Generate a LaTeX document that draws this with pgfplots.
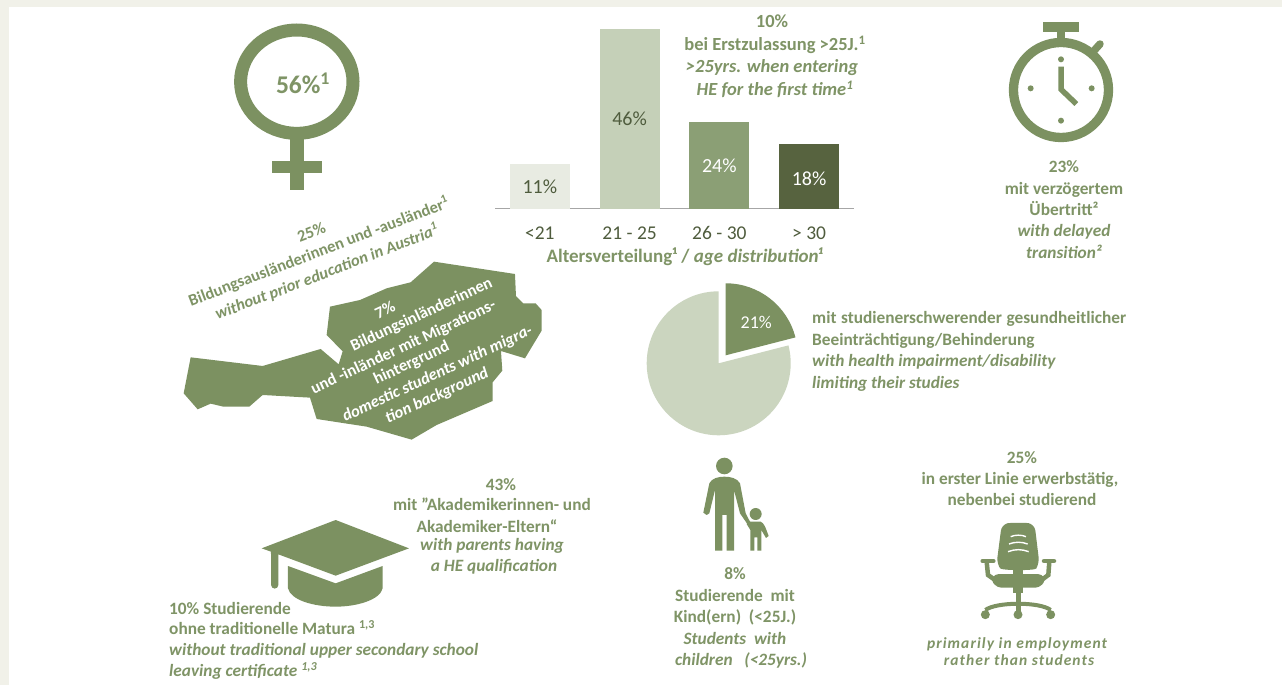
\documentclass[border=0pt]{standalone}
\usepackage{pgfplots}
\pgfplotsset{compat=1.18}
\usepackage{fontspec}
\setmainfont{Carlito}
\definecolor{bg}{HTML}{F1F1E9}
\definecolor{gr}{HTML}{7C9161}
\definecolor{tx}{HTML}{7F9466}
\definecolor{dk}{HTML}{4F5C3D}
\definecolor{b1}{HTML}{E8EBE2}
\definecolor{b2}{HTML}{C5D0B8}
\definecolor{b3}{HTML}{8B9F75}
\definecolor{b4}{HTML}{57633F}
\definecolor{pl}{HTML}{CBD5BF}
\newcommand{\sz}[1]{\fontsize{#1}{#1}\selectfont}
\def\fs{17.3}
\newcommand{\su}[1]{\textsuperscript{#1}}
\newcommand{\B}[3]{\node[tx,font=\sz{\fs}\bfseries,inner sep=0pt,anchor=base] at (#1,{#2+5.5}) {#3};}
\newcommand{\I}[3]{\node[tx,font=\sz{\fs}\bfseries\itshape,inner sep=0pt,anchor=base] at (#1,{#2+5.5}) {#3};}
\newcommand{\LB}[3]{\node[tx,font=\sz{\fs}\bfseries,inner sep=0pt,anchor=base west] at (#1,{#2+5.5}) {#3};}
\newcommand{\LI}[3]{\node[tx,font=\sz{\fs}\bfseries\itshape,inner sep=0pt,anchor=base west] at (#1,{#2+5.5}) {#3};}
\newcommand{\W}[3]{\node[white,font=\sz{16.5}\bfseries,inner sep=0pt,rotate=25] at (#1,#2) {#3};}
\begin{document}
\begin{tikzpicture}[x=1pt,y=-1pt]
\fill[bg] (0,0) rectangle (1282,685);
\fill[white] (9,7) rectangle (1282,685);
% bar chart
\begin{axis}[at={(495pt,-208.5pt)},anchor=south west,scale only axis,width=359pt,height=180pt,
  xmin=-0.5,xmax=3.5,ymin=0,ymax=46,axis x line=bottom,axis y line=none,
  axis line style={draw=gray!70,line width=1pt,-},
  xtick={0,1,2,3},xticklabels={{<21},{21 - 25},{26 - 30},{> 30}},
  major tick length=0pt,
  xticklabel style={font=\sz{19.5},text=dk,inner sep=0pt,yshift=-18pt,text height=13pt,text depth=0pt},
  ybar,bar width=60pt,clip=false]
\addplot[fill=b1,draw=none,bar shift=0pt] coordinates {(0,11.5)};
\addplot[fill=b2,draw=none,bar shift=0pt] coordinates {(1,46)};
\addplot[fill=b3,draw=none,bar shift=0pt] coordinates {(2,22)};
\addplot[fill=b4,draw=none,bar shift=0pt] coordinates {(3,16.4)};
\node[dk,font=\sz{20}] at (axis cs:0,5.5) {11\%};
\node[dk,font=\sz{20}] at (axis cs:1,23) {46\%};
\node[white,font=\sz{20}] at (axis cs:2,10.8) {24\%};
\node[white,font=\sz{20}] at (axis cs:3,7.6) {18\%};
\end{axis}
\node[tx,font=\sz{19}\bfseries,inner sep=0pt,anchor=base] at (685,262) {Altersverteilung¹ / \textit{age distribution¹}};
\def\fs{18.5}
\B{772}{22}{10\%}
\B{775}{45}{bei Erstzulassung >25J.\su{1}}
\I{772}{67}{>25yrs. when entering}
\I{775}{90}{HE for the first time\su{1}}
\def\fs{17.3}
% pie
\begin{axis}[at={(646.7pt,-435.3pt)},anchor=south west,scale only axis,width=144pt,height=144pt,
  xmin=-72,xmax=72,ymin=-72,ymax=72,hide axis,clip=false]
\fill[pl] (axis cs:0,0) -- (axis cs:0,72) arc[start angle=90,delta angle=284.4,radius=72pt] -- cycle;
\fill[gr] (axis cs:7,8) -- (axis cs:7,80) arc[start angle=90,delta angle=-75.6,radius=72pt] -- cycle;
\node[white,font=\sz{18}] at (axis cs:37.5,41) {21\%};
\end{axis}
\LB{812}{318}{\makebox[314pt][s]{mit studienerschwerender gesundheitlicher}}
\LB{812}{340}{Beeinträchtigung/Behinderung}
\LI{812}{361}{with health impairment/disability}
\LI{812}{383}{limiting their studies}
% venus
\draw[gr,line width=13pt] (296.8,81.7) ellipse [x radius=56.2pt,y radius=51.7pt];
\fill[gr] (290.3,135) rectangle (303.7,190);
\fill[gr] (272.3,160.7) rectangle (321.7,173.3);
\node[tx,font=\sz{25.5}\bfseries,inner sep=0pt] at (303,83) {56\%\su{1}};
% stopwatch
\begin{scope}[shift={(980,10)},x=0.3333pt,y=-0.3333pt]
\draw[gr,line width=9.3pt] (243,240) circle (47.5pt);
\fill[gr] (190,37) rectangle (298,65);
\fill[gr] (232,60) rectangle (256,95);
\draw[gr,line width=7.5pt,line cap=round] (335,130) -- (360,102);
\foreach \p in {(243,148),(152,235),(335,235),(243,332)} \fill[gr] \p circle (3pt);
\draw[gr,line width=5.5pt] (243,170) -- (243,238) -- (289,282);
\end{scope}
\B{1064}{167}{23\%}
\B{1064}{189}{mit verzögertem}
\B{1064}{210}{Übertritt²}
\I{1064}{231}{with delayed}
\I{1064}{253}{transition²}
% Austria
\begin{scope}[shift={(170,210)},x=0.3333pt,y=-0.3333pt]
\fill[gr] (62,442)--(278,468)--(452,417)--(506,463)--(518,424)--(470,375)--(480,290)--(570,270)--(650,235)--(722,217)--(792,155)--(1035,192)--(1038,258)--(1060,280)--(1097,280)--(1115,300)--(1115,362)--(1065,445)--(993,423)--(997,482)--(968,517)--(968,573)--(800,645)--(725,689)--(590,650)--(440,627)--(420,563)--(278,555)--(238,590)--(160,590)--(122,581)--(83,598)--(41,550)--cycle;
\end{scope}
\node[tx,font=\sz{16.5}\bfseries,inner sep=0pt,rotate=21,align=center] at (319.5,253) {25\%\\[4.5pt]Bildungsausländerinnen und -ausländer\su{1}\\[4.5pt]\textit{without prior education in Austria\su{1}}};
\W{385}{310}{7\%}
\W{421.7}{315}{Bildungsinländerinnen}
\W{403.5}{347.5}{und -inländer mit Migrations-}
\W{411.7}{363.3}{hintergrund}
\W{437.5}{374}{\textit{domestic students with migra-}}
\W{437}{396}{\textit{tion background}}
% cap
\begin{scope}[shift={(160,510)},x=0.3333pt,y=-0.3333pt]
\fill[gr] (527,30)--(747,115)--(527,197)--(355,133)--(355,225) arc[start angle=0,end angle=-180,radius=3.6pt]--(333,125)--(305,115)--cycle;
\fill[gr] (384,168)--(527,220)--(668,168)--(668,235) .. controls (660,270) and (590,290) .. (527,290) .. controls (460,290) and (392,270) .. (384,235) --cycle;
\end{scope}
\B{501}{485}{43\%}
\B{492}{505}{mit "Akademikerinnen- und}
\B{487}{527}{Akademiker-Eltern“}
\I{492}{545}{with parents having}
\I{494}{566}{a HE qualification}
\LB{169}{609}{10\% Studierende}
\LB{169}{629}{ohne traditionelle Matura \su{1,3}}
\LI{169}{650}{without traditional upper secondary school}
\LI{169}{671}{leaving certificate \su{1,3}}
% person
\begin{scope}[shift={(690,450)},x=0.3333pt,y=-0.3333pt]
\fill[gr] (103,48) circle (8.3pt);
\fill[gr] (58,100) .. controls (65,85) and (85,80) .. (103,80) .. controls (122,80) and (142,85) .. (150,100) -- (167,190) -- (180,215) -- (172,222) -- (150,190) -- (132,120) -- (132,302) -- (110,302) -- (110,195) -- (97,195) -- (97,302) -- (75,302) -- (75,120) -- (58,190) -- (50,195) -- (40,188) --cycle;
\fill[gr] (197,192) circle (6pt);
\fill[gr] (183,215) -- (212,215) .. controls (222,220) and (225,228) .. (236,258) -- (228,264) -- (214,240) -- (214,302) -- (202,302) -- (202,262) -- (193,262) -- (193,302) -- (181,302) -- (181,240) -- (170,222) -- (178,214) --cycle;
\end{scope}
\B{735}{574}{8\%}
\B{735}{596}{Studierende\ \ mit}
\B{735}{617}{Kind(ern)\ \ (<25J.)}
\I{735}{639}{Students\ \ with}
\I{741}{660}{children\ \ \ (<25yrs.)}
% chair
\begin{scope}[shift={(960,520)},x=0.3333pt,y=-0.3333pt]
\fill[gr,rounded corners=6pt] (125,14) .. controls (150,8) and (200,8) .. (224,14) -- (238,130) .. controls (225,152) and (125,152) .. (110,130) --cycle;
\draw[white,line width=1.4pt] (152,50) .. controls (165,44) and (185,44) .. (198,50);
\draw[white,line width=1.4pt] (147,72) .. controls (165,65) and (185,65) .. (203,72);
\draw[white,line width=1.4pt] (144,95) .. controls (165,87) and (185,87) .. (206,95);
\fill[gr,rounded corners=4pt] (105,162) -- (245,162) -- (258,180) -- (238,203) -- (112,203) -- (92,180) --cycle;
\fill[gr] (160,145) rectangle (190,165);
\fill[gr] (160,195) rectangle (190,220);
\fill[gr] (168,215) rectangle (182,285);
\draw[gr,line width=4.5pt,line cap=round] (68,123) -- (100,123);
\draw[gr,line width=4.5pt,line cap=round] (252,123) -- (282,123);
\draw[gr,line width=4.5pt] (80,125) -- (84,165) -- (108,182);
\draw[gr,line width=4.5pt] (268,125) -- (265,165) -- (242,182);
\draw[gr,line width=4pt] (76,270) .. controls (110,245) and (240,245) .. (272,270);
\foreach \p in {(76,284),(174,284),(272,284)} \fill[gr] \p circle (4.5pt);
\end{scope}
\B{1022}{458}{25\%}
\B{1020}{479}{in erster Linie erwerbstätig,}
\B{1022}{500}{nebenbei studierend}
\node[tx,font=\sz{15.5}\bfseries\itshape,inner sep=0pt] at (1017,644) {\addfontfeatures{LetterSpace=7}primarily in employment};
\node[tx,font=\sz{15.5}\bfseries\itshape,inner sep=0pt] at (1019,660) {\addfontfeatures{LetterSpace=7}rather than students};
\end{tikzpicture}
\end{document}
